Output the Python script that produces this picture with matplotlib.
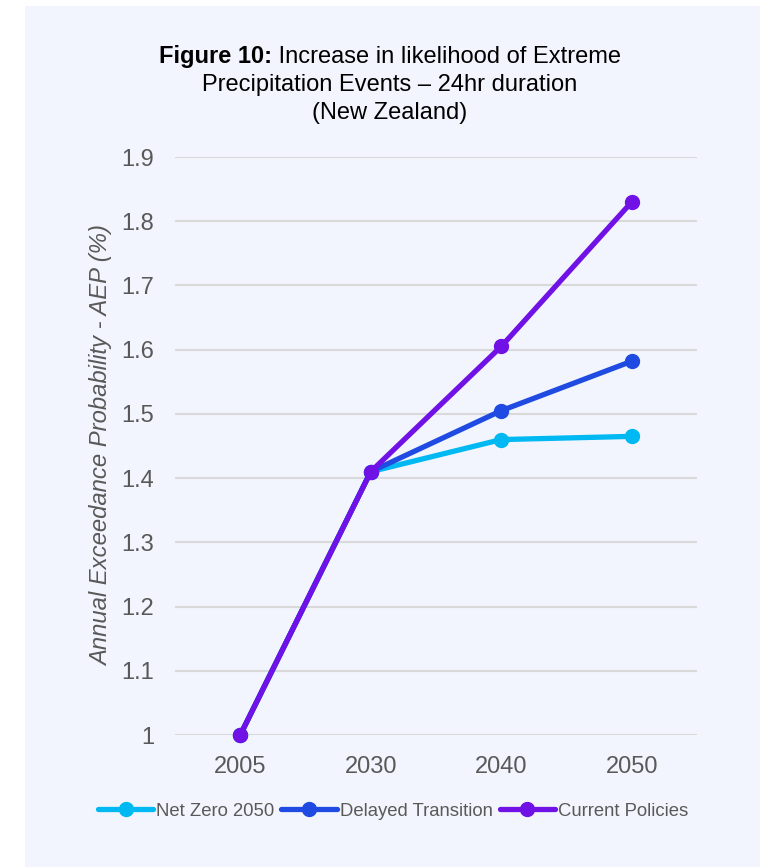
import matplotlib
matplotlib.use("Agg")
import matplotlib.pyplot as plt
from matplotlib.patches import Rectangle
from matplotlib.ticker import FuncFormatter

plt.rcParams['font.family'] = ['Liberation Sans', 'DejaVu Sans']

years = ["2005", "2030", "2040", "2050"]
net_zero = [1.0, 1.41, 1.46, 1.465]
delayed = [1.0, 1.41, 1.505, 1.582]
current = [1.0, 1.41, 1.605, 1.83]
series_names = ["Net Zero 2050", "Delayed Transition", "Current Policies"]
y_ticks = [1.0, 1.1, 1.2, 1.3, 1.4, 1.5, 1.6, 1.7, 1.8, 1.9]

colors = ["#00B8F2", "#1F4BE2", "#7011E6"]
panel = "#F2F5FD"
grey = "#595959"

W, H = 764, 867
fig = plt.figure(figsize=(W / 100, H / 100), dpi=100, facecolor="white")
fig.patches.append(Rectangle((25 / W, 0), (760 - 25) / W, 1 - 6 / H,
                             transform=fig.transFigure, facecolor=panel,
                             edgecolor="none", zorder=-5))

ax = fig.add_axes([175 / W, (H - 735) / H, 522 / W, 578 / H])
ax.set_facecolor(panel)

x = list(range(len(years)))
for vals, name, c in zip([net_zero, delayed, current], series_names, colors):
    ax.plot(x, vals, color=c, lw=3.8, marker="o", ms=10, label=name,
            clip_on=False, zorder=3, solid_capstyle="round")

ax.set_xlim(-0.5, len(years) - 0.5)
ax.set_ylim(1.0, 1.9)
ax.set_xticks(x)
ax.set_xticklabels(years)
ax.set_yticks(y_ticks)
ax.yaxis.set_major_formatter(FuncFormatter(lambda v, p: f"{v:g}"))
ax.tick_params(length=0, labelsize=17, labelcolor=grey)
ax.tick_params(axis="y", pad=15)
ax.tick_params(axis="x", pad=15)
ax.grid(axis="y", color="#D9D9D9", lw=1.5)
ax.set_axisbelow(True)
for s in ax.spines.values():
    s.set_visible(False)

ax.set_ylabel("Annual Exceedance Probability - AEP (%)", fontsize=17.2,
              color=grey, style="italic")
ax.yaxis.set_label_coords(-0.119, 0.5)

# Title: first line mixes a bold lead-in with regular text
cx = 390 / W
fs = 17
fig.canvas.draw()
r = fig.canvas.get_renderer()
bold = fig.text(0, 0, "Figure 10:", fontsize=fs, fontweight="bold", va="center")
rest = fig.text(0, 0, " Increase in likelihood of Extreme", fontsize=fs, va="center")
wb = bold.get_window_extent(r).width / W
wr = rest.get_window_extent(r).width / W
x0 = cx - (wb + wr) / 2
y1 = 1 - 57 / H
bold.set_position((x0, y1))
rest.set_position((x0 + wb, y1))
fig.text(cx, 1 - 85 / H, "Precipitation Events \u2013 24hr duration",
         fontsize=fs, ha="center", va="center")
fig.text(cx, 1 - 113 / H, "(New Zealand)", fontsize=fs, ha="center", va="center")

leg = fig.legend(loc="center", bbox_to_anchor=(393 / W, 1 - 811 / H), ncol=3,
                 frameon=False, fontsize=13.3, handlelength=3.0,
                 handletextpad=0.15, columnspacing=0.38, labelcolor=grey)

fig.savefig("out.png", dpi=100, facecolor="white")
